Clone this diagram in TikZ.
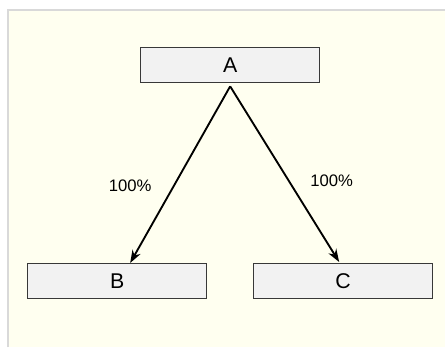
\documentclass[tikz,border=0pt]{standalone}
\usepackage{fontspec}
\setmainfont{Liberation Sans}
\usepackage{tikz}
\usetikzlibrary{arrows.meta,positioning,calc}
\definecolor{panelbg}{rgb}{1.00,1.00,0.94}
\definecolor{boxgrey}{rgb}{0.95,0.95,0.95}
\definecolor{edgegrey}{rgb}{0.22,0.22,0.22}

\begin{document}
\begin{tikzpicture}[x=0.75pt,y=-0.75pt,font=\fontsize{16}{19}\selectfont,
   box/.style={draw=edgegrey,line width=1pt,fill=boxgrey,minimum width=134.25pt,minimum height=26.25pt,
               inner sep=0pt,anchor=north west},
   flow/.style={-{Stealth[length=3.4mm,width=2.4mm]},line width=1.4pt},
   pct/.style={font=\fontsize{12.5}{15}\selectfont}]
  \useasboundingbox (0,0) rectangle (445,347);
  \fill[white] (0,0) rectangle (445,347);
  \fill[panelbg] (8,10) rectangle (445,347);
  \draw[black!15,line width=1pt] (8,347) -- (8,10) -- (445,10);
  \node[box] (a) at (140,47) {A};
  \node[box] (b) at (27,263) {B};
  \node[box] (c) at (253,263) {C};
  \coordinate (top) at ($(a.south)+(0,3)$);
  \draw[flow] (top) -- ($(b.north)+(13,0)$) node[pos=0.56,left=13pt,pct]{100\%};
  \draw[flow] (top) -- ($(c.north)+(-4,-1)$) node[pos=0.54,right=12pt,pct]{100\%};
\end{tikzpicture}
\end{document}
